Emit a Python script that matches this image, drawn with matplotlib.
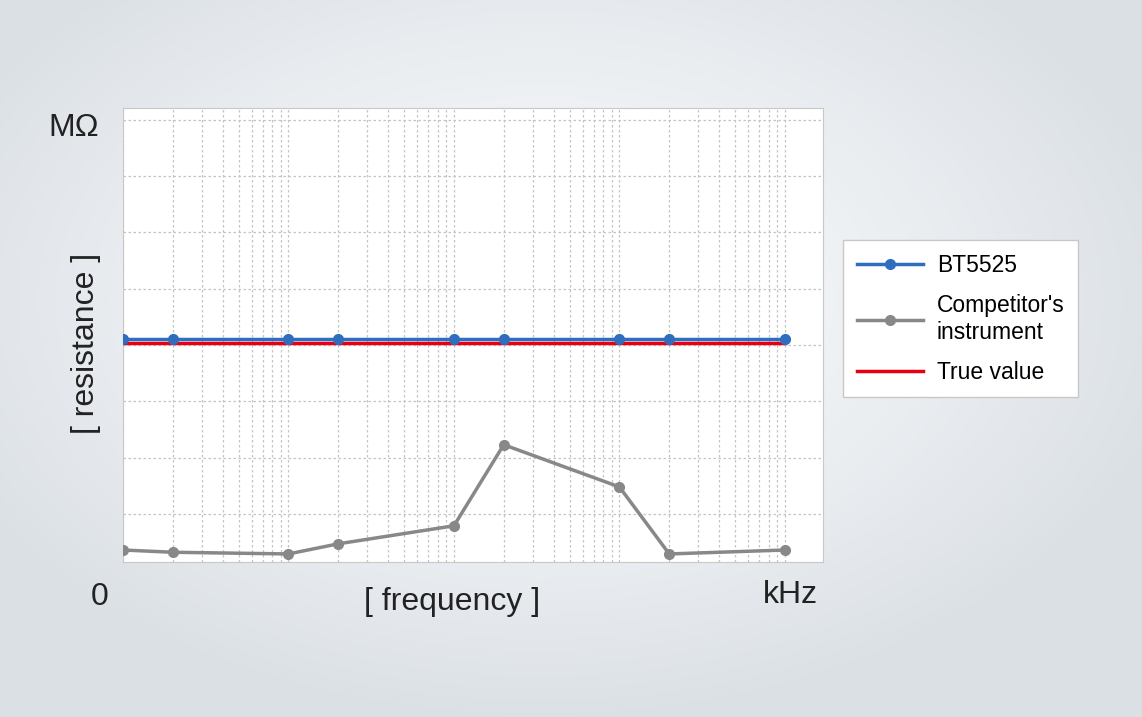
import numpy as np
import matplotlib.pyplot as plt

plt.rcParams['font.family'] = ['Liberation Sans', 'DejaVu Sans']

freq = [1, 2, 10, 20, 100, 200, 1000, 2000, 10000]
bt5525 = [4.11] * 9
competitor = [0.36, 0.32, 0.29, 0.47, 0.79, 2.23, 1.48, 0.29, 0.36]
true_value = [4.04] * 9

W, H = 1142, 717
fig = plt.figure(figsize=(W / 100, H / 100), dpi=100)

# fondo con gradiente radiale
bg = fig.add_axes([0, 0, 1, 1], zorder=-10)
yy, xx = np.mgrid[0:H, 0:W]
r = np.sqrt(((xx - 540) / 650) ** 2 + ((yy - 300) / 420) ** 2)
r = np.clip(r, 0, 1)
c0 = np.array([0.98, 0.985, 0.99])
c1 = np.array([0.86, 0.88, 0.9])
img = c0 + (c1 - c0) * r[..., None] ** 1.3
bg.imshow(img, aspect='auto', extent=[0, 1, 0, 1])
bg.axis('off')

ax = fig.add_axes([123 / W, 1 - 562 / H, 700 / W, 454 / H])
ax.set_xscale('log')
ax.set_xlim(1, 10 ** (4 + 38 / 165))
ax.set_ylim(0.147, 0.147 + 454 / 56.3)
ax.set_yticks(range(1, 9))
ax.grid(True, which='both', axis='x', color='#c4c4c4', linestyle=(0, (2, 2)), linewidth=0.9)
ax.grid(True, which='major', axis='y', color='#c4c4c4', linestyle=(0, (2, 2)), linewidth=0.9)
ax.tick_params(which='both', length=0, labelbottom=False, labelleft=False)
for s in ax.spines.values():
    s.set_color('#c8c8c8')

ax.plot(freq, true_value, color='#e60012', linewidth=2.5, label='True value', zorder=3)
ax.plot(freq, competitor, color='#888888', linewidth=2.5, marker='o', markersize=7,
        label="Competitor's\ninstrument", zorder=4)
ax.plot(freq, bt5525, color='#2f6dbf', linewidth=2.5, marker='o', markersize=7,
        label='BT5525', zorder=5)

h, l = ax.get_legend_handles_labels()
order = [2, 1, 0]
leg = fig.legend([h[i] for i in order], [l[i] for i in order], loc='upper left',
                 bbox_to_anchor=(843 / W, 1 - 240 / H), fontsize=16.5, frameon=True,
                 fancybox=False, edgecolor='#c8c8c8', framealpha=1, handlelength=2.9,
                 labelspacing=0.75, borderpad=0.6, handletextpad=0.6, borderaxespad=0)
leg.get_frame().set_linewidth(1)

fig.text(48 / W, 1 - 128 / H, 'MΩ', fontsize=23, va='center', ha='left', color='#222222')
fig.text(100 / W, 1 - 597 / H, '0', fontsize=23, va='center', ha='center', color='#222222')
fig.text(790 / W, 1 - 595 / H, 'kHz', fontsize=23, va='center', ha='center', color='#222222')
fig.text(452 / W, 1 - 602 / H, '[ frequency ]', fontsize=23, va='center', ha='center', color='#222222')
fig.text(86 / W, 1 - 343 / H, '[ resistance ]', fontsize=23, va='center', ha='center',
         rotation=90, color='#222222')

fig.savefig('out.png', dpi=100)
